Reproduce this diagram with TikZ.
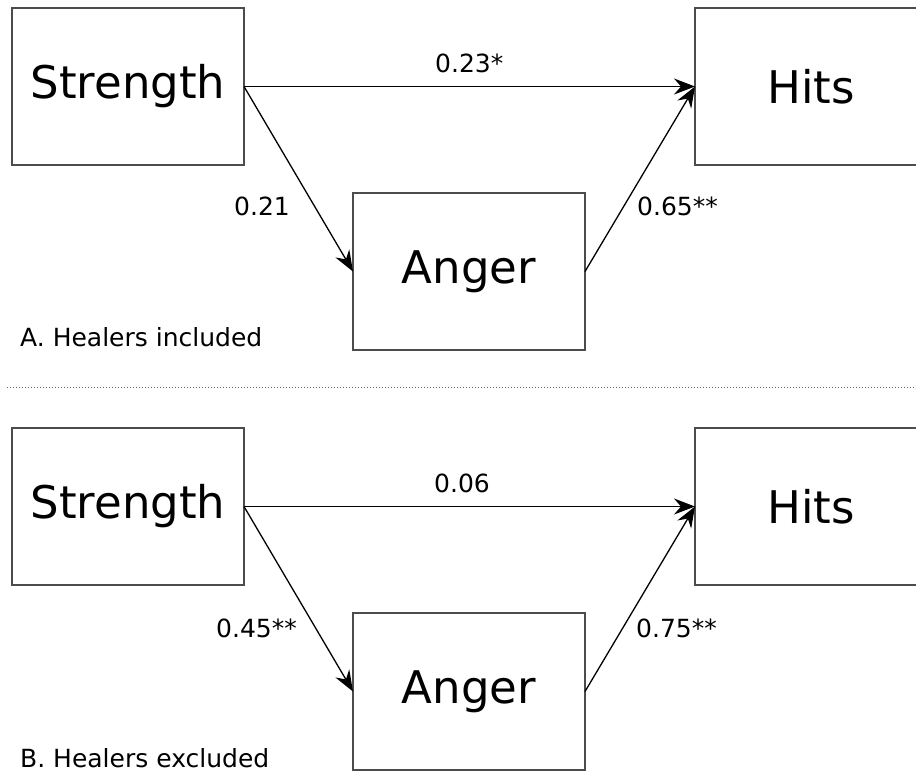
\documentclass[tikz,border=0pt]{standalone}
\usepackage{fontspec}
\setmainfont{DejaVu Sans}
\usetikzlibrary{arrows.meta}
\begin{document}
\begin{tikzpicture}[x=1pt,y=-1pt,
  box/.style={draw=black!70,line width=1.2pt,minimum width=232pt,minimum height=157pt,outer sep=0pt,inner sep=0pt,font=\fontsize{45}{52}\selectfont},
  conn/.style={line width=1.3pt,-{Stealth[length=21pt,width=16pt,inset=7pt]}},
  lbl/.style={anchor=base west,inner sep=0pt,font=\fontsize{25}{30}\selectfont}]
\useasboundingbox (0,0) rectangle (916,772);
% Panel A
\node[box] (s1) at (128,86.5) {Strength};
\node[box] (h1) at (811,86.5) {Hits};
\node[box] (a1) at (469,271.5) {Anger};
\draw[conn] (s1.east) -- (h1.west);
\draw[conn] (s1.east) -- (a1.west);
\draw[conn] (a1.east) -- (h1.west);
\node[lbl] (l1) at (435,72) {0.23*};
\node[lbl] (l2) at (234,215) {0.21};
\node[lbl] (l3) at (637,215) {0.65**};
\node[lbl] (t1) at (20,346) {A. Healers included};
% separator
\coordinate (d1) at (7,387);
\coordinate (d2) at (916,387);
\draw[black!60,line width=1pt,dash pattern=on 1pt off 2pt] (d1) -- (d2);
% Panel B
\node[box] (s2) at (128,506.5) {Strength};
\node[box] (h2) at (811,506.5) {Hits};
\node[box] (a2) at (469,691.5) {Anger};
\draw[conn] (s2.east) -- (h2.west);
\draw[conn] (s2.east) -- (a2.west);
\draw[conn] (a2.east) -- (h2.west);
\node[lbl] (m1) at (434,492) {0.06};
\node[lbl] (m2) at (216,637) {0.45**};
\node[lbl] (m3) at (636,637) {0.75**};
\node[lbl] (t2) at (20,767) {B. Healers excluded};
\end{tikzpicture}
\end{document}
